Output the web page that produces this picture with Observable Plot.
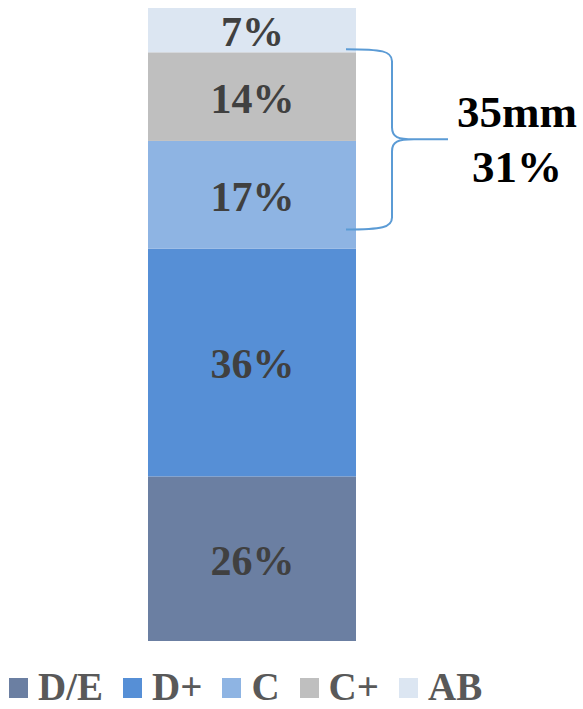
<!DOCTYPE html>
<html><head><meta charset="utf-8">
<script src="https://cdn.jsdelivr.net/npm/d3@7"></script>
<script src="https://cdn.jsdelivr.net/npm/@observablehq/plot@0.6"></script>
<style>
body{margin:0;background:#fff;width:583px;height:709px;overflow:hidden;font-family:"Liberation Serif","Times New Roman",serif;}
#legend{display:flex;align-items:center;padding-top:13px;padding-left:9px;height:46px;}
.item{display:flex;align-items:center;margin-right:20px;}
.sw{width:19px;height:20px;margin-right:10px;margin-top:3px;}
.lab{font-size:39px;line-height:39px;font-weight:bold;color:#595959;}
</style></head>
<body><div id="chart"></div><div id="legend"></div>
<script>
const categories = ["D/E", "D+", "C", "C+", "AB"];
const values = [26, 36, 17, 14, 7];
const colors = ["#6b7fa2", "#568fd6", "#8eb4e3", "#bfbfbf", "#dce6f2"];
const bracketCategories = ["C", "C+"];
const bracketTitle = "35mm";
const bracketExtent = [65, 93.5]; // brace span in % units, as drawn

const data = categories.map((c, i) => ({cat: c, value: values[i], group: "total"}));
const bracketTotal = d3.sum(data.filter(d => bracketCategories.includes(d.cat)), d => d.value);

const brace = (index, scales, vals, dims) => {
  const y = scales.y;
  const xr = dims.width - dims.marginRight; // bar right edge
  const y1 = y(bracketExtent[1]), y2 = y(bracketExtent[0]), ym = (y1 + y2) / 2;
  const x0 = xr - 10, xv = xr + 36, xt = xr + 92;
  const g = d3.create("svg:g");
  const p = `M${x0},${y1} C${xv-10},${y1} ${xv},${y1+2} ${xv},${y1+12} L${xv},${ym-12} C${xv},${ym-2} ${xv+6},${ym} ${xv+22},${ym} L${xt},${ym} M${xv+22},${ym} C${xv+6},${ym} ${xv},${ym+2} ${xv},${ym+12} L${xv},${y2-12} C${xv},${y2-2} ${xv-10},${y2} ${x0},${y2}`;
  g.append("path").attr("d", p).attr("fill", "none").attr("stroke", "#5b9bd5").attr("stroke-width", 2);
  const t = g.append("text").attr("text-anchor", "middle")
    .attr("font-family", "Liberation Serif, Times New Roman, serif").attr("font-weight", "bold")
    .attr("font-size", 45).attr("fill", "#000");
  t.append("tspan").attr("x", xr + 161).attr("y", ym - 12).text(bracketTitle);
  t.append("tspan").attr("x", xr + 161).attr("y", ym + 43).text(bracketTotal + "%");
  return g.node();
};

const plot = Plot.plot({
  width: 583,
  height: 650,
  marginTop: 8,
  marginBottom: 9,
  marginLeft: 148,
  marginRight: 227,
  x: {domain: ["total"], padding: 0, axis: null},
  y: {domain: [0, 100], axis: null},
  color: {domain: categories, range: colors},
  style: {background: "#fff"},
  marks: [
    Plot.barY(data, Plot.stackY({x: "group", y: "value", fill: "cat", order: null})),
    Plot.text(data, Plot.stackY({x: "group", y: "value", order: null, text: d => d.value + "%",
      fill: "#404040", fontSize: 42, fontWeight: "bold", fontFamily: "Liberation Serif, Times New Roman, serif", dy: 2})),
    brace
  ]
});
document.getElementById("chart").appendChild(plot);

const leg = d3.select("#legend");
categories.forEach((c, i) => {
  const it = leg.append("div").attr("class", "item");
  it.append("div").attr("class", "sw").style("background", colors[i]);
  it.append("div").attr("class", "lab").text(c);
});
</script>
</body></html>
